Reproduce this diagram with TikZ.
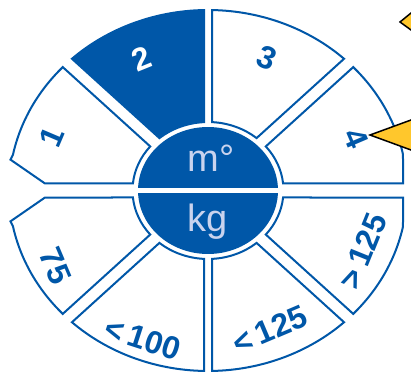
\documentclass[tikz,border=0pt]{standalone}
\usepackage{fontspec}
\setmainfont{Liberation Sans}
\definecolor{dblue}{HTML}{0057A8}
\definecolor{lblue}{HTML}{C9D3EE}
\definecolor{ayellow}{HTML}{FFC72C}
\begin{document}
\begin{tikzpicture}[x=1pt,y=1pt,
  sector/.style={draw=dblue,line width=2pt,line join=miter,fill=white},
  sectorfill/.style={draw=dblue,line width=2pt,line join=miter,fill=dblue},
  num/.style={text=dblue,font=\bfseries\fontsize{32}{32}\selectfont,inner sep=0pt},
  numw/.style={num,text=white},
  unit/.style={text=lblue,font=\fontsize{38}{38}\selectfont,inner sep=0pt},
  pointer/.style={fill=ayellow,draw=black,line width=1.5pt,line join=miter}]
\useasboundingbox (0,0) rectangle (411,372);
\clip (0,0) rectangle (411,372);
\begin{scope}[shift={(208,181.5)},yscale=0.907]
  % top half
  \path[sector] (46.872:199) arc[start angle=46.872,end angle=88.848,radius=199]
     -- (86.963:75.5) arc[start angle=86.963,end angle=49.939,radius=75.5] -- cycle;
  \path[sectorfill] (91.152:199) arc[start angle=91.152,end angle=133.128,radius=199]
     -- (130.061:75.5) arc[start angle=130.061,end angle=93.037,radius=75.5] -- cycle;
  \path[sector] (136.872:199) arc[start angle=136.872,end angle=168.5,radius=199]
     -- (-197.5,34) -- (-163,7.72) -- (174.132:75.5) arc[start angle=174.132,end angle=139.939,radius=75.5] -- cycle;
  \path[sector] (195,7.72) -- (11.51:199) arc[start angle=11.51,end angle=43.128,radius=199]
     -- (40.061:75.5) arc[start angle=40.061,end angle=5.868,radius=75.5] -- cycle;
  % bottom half
  \path[sector] (195,-7.72) -- (-11.51:199) arc[start angle=-11.51,end angle=-43.128,radius=199]
     -- (-40.061:75.5) arc[start angle=-40.061,end angle=-5.868,radius=75.5] -- cycle;
  \path[sector] (-46.872:199) arc[start angle=-46.872,end angle=-88.848,radius=199]
     -- (-86.963:75.5) arc[start angle=-86.963,end angle=-49.939,radius=75.5] -- cycle;
  \path[sector] (-91.152:199) arc[start angle=-91.152,end angle=-133.128,radius=199]
     -- (-130.061:75.5) arc[start angle=-130.061,end angle=-93.037,radius=75.5] -- cycle;
  \path[sector] (-136.872:199) arc[start angle=-136.872,end angle=-168.5,radius=199]
     -- (-197.5,-34) -- (-163,-7.72) -- (-174.132:75.5) arc[start angle=-174.132,end angle=-139.939,radius=75.5] -- cycle;
  % centre disc
  \fill[dblue] (0,0) circle[radius=70];
  \fill[white] (-72,-2.76) rectangle (72,2.76);
\end{scope}
% labels
\node[numw,rotate=22]  (l2)   at (142,313) {2};
\node[num,rotate=-23]  (l3)   at (267,314) {3};
\node[num,rotate=67]   (l1)   at (52,235)  {1};
\node[num,rotate=-67]  (l4)   at (356,234) {4};
\node[num,rotate=-67]  (l75)  at (55,106)  {75};
\node[num,rotate=-18]  (l100) at (143,33)  {<\,100};
\node[num,rotate=23]   (l125) at (270,42)  {<\,125};
\node[num,rotate=68]   (g125) at (363,121) {>\,125};
\node[unit,anchor=base] (m)  at (211,200) {m°};
\node[unit,anchor=base] (kg) at (208,141) {kg};
% pointers
\path[pointer] (370,237) -- (440,262.6) -- (440,211.4) -- cycle;
\path[pointer] (400,350) -- (430,374.5) -- (430,328.2) -- cycle;
\end{tikzpicture}
\end{document}
